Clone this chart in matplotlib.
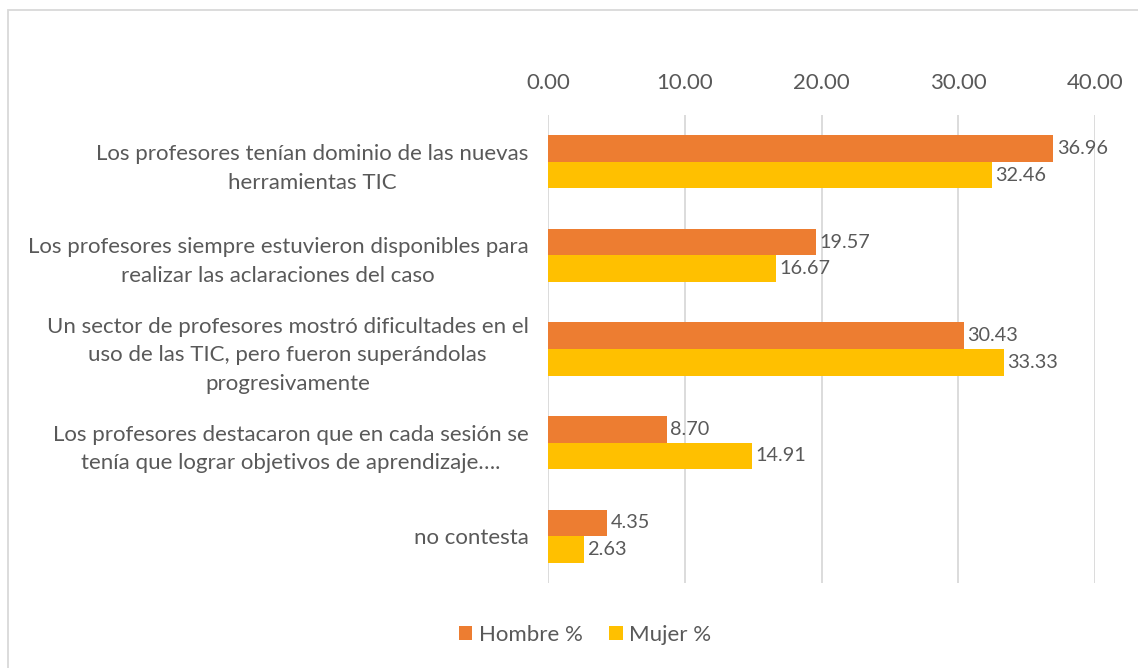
import matplotlib
matplotlib.use("Agg")
import matplotlib.pyplot as plt
from matplotlib.patches import Rectangle
import numpy as np

categories = [
    "Los profesores tenían dominio de las nuevas\nherramientas TIC",
    "Los profesores siempre estuvieron disponibles para\nrealizar las aclaraciones del caso",
    "Un sector de profesores mostró dificultades en el\nuso de las TIC, pero fueron superándolas\nprogresivamente",
    "Los profesores destacaron que en cada sesión se\ntenía que lograr objetivos de aprendizaje….",
    "no contesta",
]
hombre = [36.96, 19.57, 30.43, 8.70, 4.35]
mujer = [32.46, 16.67, 33.33, 14.91, 2.63]
xticks = [0, 10, 20, 30, 40]

plt.rcParams['font.family'] = ['Lato', 'DejaVu Sans']
txt = '#595959'
c_h = '#ED7D31'
c_m = '#FFC000'

fig = plt.figure(figsize=(11.38, 6.68), dpi=100)
W, H = 1138, 668
# plot area in pixels
left, right, top, bottom = 548, 1095, 115, 583
ax = fig.add_axes([left / W, 1 - bottom / H, (right - left) / W, (bottom - top) / H])

y = np.arange(len(categories))
bh = 0.285
ax.barh(y - bh / 2, hombre, height=bh, color=c_h, label='Hombre %', zorder=3)
ax.barh(y + bh / 2, mujer, height=bh, color=c_m, label='Mujer %', zorder=3)

for yi, v in zip(y, hombre):
    ax.text(v + 0.25, yi - bh / 2, f"{v:.2f}", va='center', ha='left', fontsize=14.3, color=txt, zorder=4)
for yi, v in zip(y, mujer):
    ax.text(v + 0.25, yi + bh / 2, f"{v:.2f}", va='center', ha='left', fontsize=14.3, color=txt, zorder=4)

ax.set_xlim(0, 40)
ax.set_ylim(len(categories) - 0.5, -0.5)
ax.set_xticks(xticks)
ax.set_xticklabels([f"{t:.2f}" for t in xticks], fontsize=16)
ax.xaxis.tick_top()
ax.set_yticks(y)
ax.set_yticklabels(categories, multialignment='center', fontsize=16, linespacing=1.55)
ax.tick_params(axis='both', length=0, colors=txt)
ax.tick_params(axis='x', pad=16)
ax.tick_params(axis='y', pad=14)
ax.grid(axis='x', color='#D9D9D9', linewidth=1.3, zorder=0)
for s in ax.spines.values():
    s.set_visible(False)

leg = fig.legend(loc='center', bbox_to_anchor=(585 / W, 1 - 635 / H), ncol=2, frameon=False,
                 fontsize=16, handlelength=0.6, handleheight=0.6, handletextpad=0.3, columnspacing=1.2)
for t in leg.get_texts():
    t.set_color(txt)

fig.patches.append(Rectangle((8 / W, -0.1), 1.2, 1 - 10 / H + 0.1, transform=fig.transFigure,
                             fill=False, edgecolor='#D9D9D9', linewidth=1.3))

fig.savefig('out.png', dpi=100)
